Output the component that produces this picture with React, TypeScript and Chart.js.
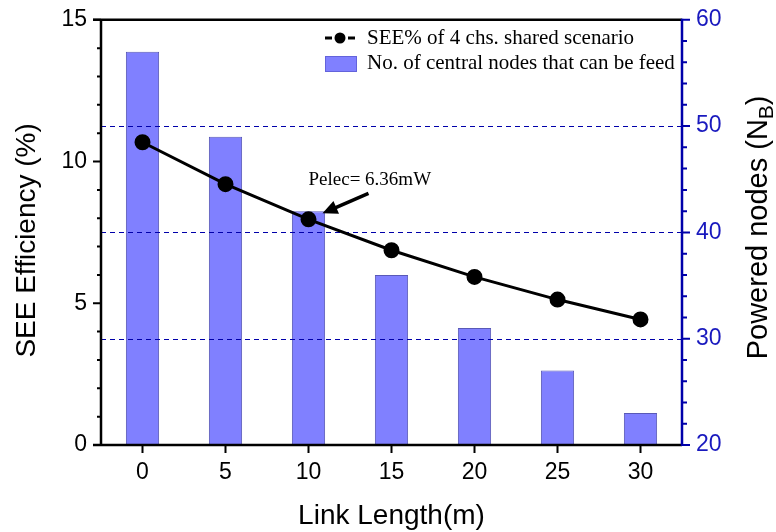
import React, { useEffect, useRef } from "react";
import { Chart, registerables } from "chart.js";

Chart.register(...registerables);

// Link length (m)
const linkLengths = [0, 5, 10, 15, 20, 25, 30];
// SEE% of 4 chs. shared scenario
const seeEfficiency = [10.68, 9.2, 7.96, 6.87, 5.93, 5.13, 4.43];
// No. of central nodes that can be feed
const poweredNodes = [57, 49, 42, 36, 31, 27, 23];

const leftTicks = [0, 5, 10, 15];
const rightTicks = [20, 30, 40, 50, 60];
const gridValues = [30, 40, 50];
const bottomTicks = [0, 5, 10, 15, 20, 25, 30];

const lineLegend = "SEE% of 4 chs. shared scenario";
const barLegend = "No. of central nodes that can be feed";
const annotationText = "Pelec= 6.36mW";
const annotatedIndex = 2;

const BAR_FILL = "rgb(128,128,255)";
const BAR_EDGE = "rgba(60,60,170,0.85)";
const BLUE_AXIS = "rgb(0,0,170)";
const BLUE_TEXT = "rgb(25,25,190)";
const SANS = "Arial, 'Liberation Sans', sans-serif";
const SERIF = "'Times New Roman', 'Liberation Serif', serif";

const decorations = {
  id: "decorations",
  afterDatasetDraw(chart: any, args: any) {
    if (args.index !== 0) return;
    const { ctx, chartArea } = chart;
    const y1 = chart.scales.y1;
    ctx.save();
    ctx.strokeStyle = BLUE_AXIS;
    ctx.lineWidth = 1;
    ctx.setLineDash([5, 4]);
    for (const v of gridValues) {
      const py = Math.round(y1.getPixelForValue(v)) + 0.5;
      ctx.beginPath();
      ctx.moveTo(chartArea.left, py);
      ctx.lineTo(chartArea.right, py);
      ctx.stroke();
    }
    ctx.restore();
  },
  afterDraw(chart: any) {
    const { ctx, chartArea } = chart;
    const { left, right, top, bottom } = chartArea;
    const x = chart.scales.x;
    const y = chart.scales.y;
    const y1 = chart.scales.y1;
    ctx.save();
    ctx.setLineDash([]);

    // frame: left, bottom, top in black
    ctx.strokeStyle = "#000";
    ctx.lineWidth = 2.5;
    ctx.beginPath();
    ctx.moveTo(left, top);
    ctx.lineTo(left, bottom);
    ctx.moveTo(left - 8, bottom);
    ctx.lineTo(right, bottom);
    ctx.moveTo(left - 8, top);
    ctx.lineTo(right, top);
    ctx.stroke();

    // left ticks (major + minor)
    ctx.lineWidth = 2;
    ctx.beginPath();
    for (let v = 0; v <= 15; v += 1) {
      const py = y.getPixelForValue(v);
      const len = v % 5 === 0 ? 8 : 4;
      ctx.moveTo(left - len, py);
      ctx.lineTo(left, py);
    }
    // bottom ticks
    for (const v of bottomTicks) {
      const px = x.getPixelForValue(v);
      ctx.moveTo(px, bottom);
      ctx.lineTo(px, bottom + 8);
    }
    ctx.stroke();

    // right axis in blue
    ctx.strokeStyle = BLUE_AXIS;
    ctx.lineWidth = 2.5;
    ctx.beginPath();
    ctx.moveTo(right, top - 1);
    ctx.lineTo(right, bottom + 1);
    ctx.stroke();
    ctx.lineWidth = 2;
    ctx.beginPath();
    for (let v = 20; v <= 60; v += 2) {
      const py = y1.getPixelForValue(v);
      const len = v % 10 === 0 ? 8 : 5;
      ctx.moveTo(right, py);
      ctx.lineTo(right + len, py);
    }
    ctx.stroke();

    // axis titles
    ctx.fillStyle = "#000";
    ctx.font = `28px ${SANS}`;
    ctx.textAlign = "center";
    ctx.textBaseline = "alphabetic";
    ctx.fillText("Link Length(m)", (left + right) / 2, 524);

    ctx.save();
    ctx.translate(35, (top + bottom) / 2 + 8);
    ctx.rotate(-Math.PI / 2);
    ctx.fillText("SEE Efficiency (%)", 0, 0);
    ctx.restore();

    ctx.save();
    ctx.translate(767, (top + bottom) / 2 - 5);
    ctx.rotate(-Math.PI / 2);
    const mainFont = `29px ${SANS}`;
    const subFont = `21px ${SANS}`;
    const p1 = "Powered nodes (N";
    const p2 = "B";
    const p3 = ")";
    ctx.font = mainFont;
    const w1 = ctx.measureText(p1).width;
    const w3 = ctx.measureText(p3).width;
    ctx.font = subFont;
    const w2 = ctx.measureText(p2).width;
    let cx = -(w1 + w2 + w3) / 2;
    ctx.textAlign = "left";
    ctx.font = mainFont;
    ctx.fillText(p1, cx, 0);
    cx += w1;
    ctx.font = subFont;
    ctx.fillText(p2, cx, 6);
    cx += w2;
    ctx.font = mainFont;
    ctx.fillText(p3, cx, 0);
    ctx.restore();

    // legend
    const lx = 325;
    const r1 = 38;
    const r2 = 63;
    ctx.strokeStyle = "#000";
    ctx.lineWidth = 3;
    ctx.beginPath();
    ctx.moveTo(lx, r1);
    ctx.lineTo(lx + 7, r1);
    ctx.moveTo(lx + 23, r1);
    ctx.lineTo(lx + 30, r1);
    ctx.stroke();
    ctx.fillStyle = "#000";
    ctx.beginPath();
    ctx.arc(lx + 15, r1, 5.5, 0, Math.PI * 2);
    ctx.fill();
    ctx.fillStyle = BAR_FILL;
    ctx.fillRect(lx, r2 - 7, 32, 16);
    ctx.strokeStyle = BAR_EDGE;
    ctx.lineWidth = 1;
    ctx.setLineDash([1, 1]);
    ctx.strokeRect(lx + 0.5, r2 - 6.5, 31, 15);
    ctx.setLineDash([]);
    ctx.fillStyle = "#000";
    ctx.font = `21px ${SERIF}`;
    ctx.textAlign = "left";
    ctx.textBaseline = "middle";
    ctx.fillText(lineLegend, lx + 42, r1);
    ctx.fillText(barLegend, lx + 42, r2);

    // annotation with arrow
    const ax = x.getPixelForValue(linkLengths[annotatedIndex]);
    const ay = y.getPixelForValue(seeEfficiency[annotatedIndex]);
    ctx.font = `19px ${SERIF}`;
    ctx.fillText(annotationText, ax, ay - 39);
    const tx = ax + 60, ty = ay - 26;
    const hx = ax + 14, hy = ay - 6;
    const ang = Math.atan2(hy - ty, hx - tx);
    ctx.strokeStyle = "#000";
    ctx.lineWidth = 3.5;
    ctx.beginPath();
    ctx.moveTo(tx, ty);
    ctx.lineTo(hx - 10 * Math.cos(ang), hy - 10 * Math.sin(ang));
    ctx.stroke();
    ctx.beginPath();
    ctx.moveTo(hx, hy);
    ctx.lineTo(hx - 15 * Math.cos(ang) + 7 * Math.sin(ang), hy - 15 * Math.sin(ang) - 7 * Math.cos(ang));
    ctx.lineTo(hx - 15 * Math.cos(ang) - 7 * Math.sin(ang), hy - 15 * Math.sin(ang) + 7 * Math.cos(ang));
    ctx.closePath();
    ctx.fill();

    ctx.restore();
  },
};

export default function App() {
  const canvasRef = useRef<HTMLCanvasElement | null>(null);

  useEffect(() => {
    const canvas = canvasRef.current;
    if (!canvas) return;
    const chart = new Chart(canvas, {
      type: "bar",
      data: {
        datasets: [
          {
            type: "bar",
            label: barLegend,
            data: linkLengths.map((v, i) => ({ x: v, y: poweredNodes[i] })),
            yAxisID: "y1",
            xAxisID: "x",
            backgroundColor: BAR_FILL,
            borderColor: BAR_EDGE,
            borderWidth: 1,
            barPercentage: 0.4,
            categoryPercentage: 1,
            order: 2,
          },
          {
            type: "line",
            label: lineLegend,
            data: linkLengths.map((v, i) => ({ x: v, y: seeEfficiency[i] })),
            yAxisID: "y",
            xAxisID: "x",
            borderColor: "#000",
            backgroundColor: "#000",
            borderWidth: 3,
            pointRadius: 6.5,
            pointBackgroundColor: "#000",
            pointBorderColor: "#000",
            tension: 0,
            order: 1,
          },
        ],
      } as any,
      options: {
        animation: false,
        responsive: false,
        maintainAspectRatio: false,
        layout: { padding: { top: 19, left: 0, right: 0, bottom: 0 } },
        plugins: { legend: { display: false }, tooltip: { enabled: false } },
        scales: {
          x: {
            type: "linear",
            offset: false,
            min: -2.5,
            max: 32.5,
            afterBuildTicks: (s: any) => {
              s.ticks = bottomTicks.map((v) => ({ value: v }));
            },
            ticks: { color: "#000", font: { size: 23, family: SANS }, padding: 6, maxRotation: 0 },
            grid: { display: true, offset: false, drawOnChartArea: false, color: "transparent", tickLength: 8 },
            border: { display: false },
            afterFit: (s: any) => {
              s.height = 87;
            },
          },
          y: {
            type: "linear",
            position: "left",
            min: 0,
            max: 15,
            afterBuildTicks: (s: any) => {
              s.ticks = leftTicks.map((v) => ({ value: v }));
            },
            ticks: { color: "#000", font: { size: 23, family: SANS }, padding: 6 },
            grid: { display: true, drawOnChartArea: false, color: "transparent", tickLength: 8 },
            border: { display: false },
            afterFit: (s: any) => {
              s.width = 101;
            },
          },
          y1: {
            type: "linear",
            position: "right",
            min: 20,
            max: 60,
            afterBuildTicks: (s: any) => {
              s.ticks = rightTicks.map((v) => ({ value: v }));
            },
            ticks: { color: BLUE_TEXT, font: { size: 23, family: SANS }, padding: 6 },
            grid: { display: true, drawOnChartArea: false, color: "transparent", tickLength: 8 },
            border: { display: false },
            afterFit: (s: any) => {
              s.width = 94;
            },
          },
        },
      } as any,
      plugins: [decorations],
    });
    return () => chart.destroy();
  }, []);

  return (
    <div style={{ position: "absolute", left: 0, top: 0, width: 776, height: 532, background: "#fff" }}>
      <canvas ref={canvasRef} width={776} height={532} style={{ display: "block" }} />
    </div>
  );
}
